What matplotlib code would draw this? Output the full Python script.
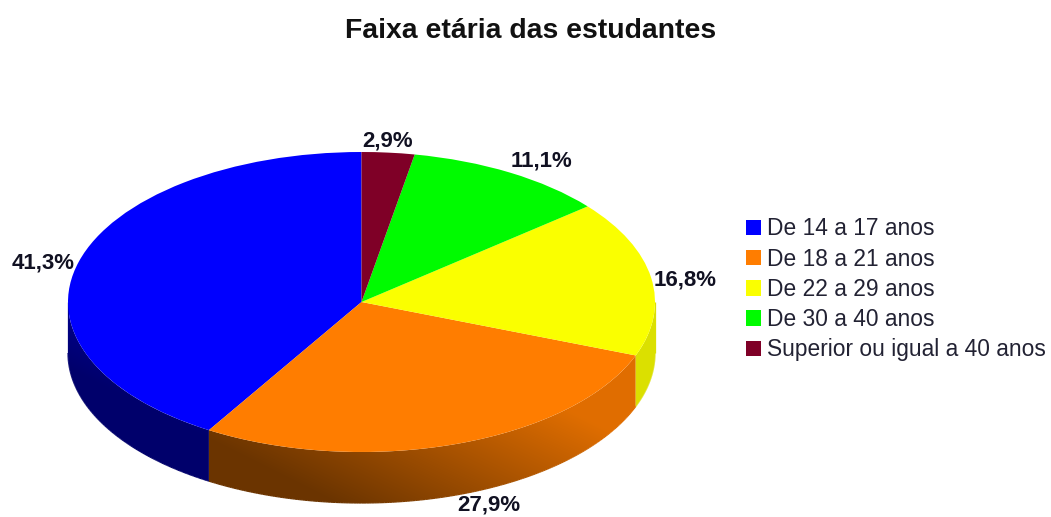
import numpy as np
import matplotlib
matplotlib.use("Agg")
import matplotlib.pyplot as plt
from matplotlib.collections import LineCollection
from matplotlib.patches import Polygon

plt.rcParams['font.family'] = ['Liberation Sans', 'DejaVu Sans']

title = "Faixa etária das estudantes"
categories = ["De 14 a 17 anos", "De 18 a 21 anos", "De 22 a 29 anos",
              "De 30 a 40 anos", "Superior ou igual a 40 anos"]
values = [41.3, 27.9, 16.8, 11.1, 2.9]
colors = ["#0000ff", "#ff7d00", "#faff00", "#00fb00", "#7f0027"]

W, H = 1051, 517
CX, CY, RX, RY, DEPTH = 361.5, 302.0, 293.5, 150.0, 51.0

fig = plt.figure(figsize=(W / 100, H / 100), dpi=100, facecolor="white")
ax = fig.add_axes([0, 0, 1, 1])
wedges, _ = ax.pie(values, colors=colors, startangle=90, counterclock=True,
                   normalize=True, wedgeprops=dict(linewidth=0, zorder=3))
xlim = (-CX / RX, (W - CX) / RX)
ylim = (-(H - CY) / RY, CY / RY)
depth = DEPTH / RY


def shade(px, py):
    return np.clip(0.54 + 0.0011 * (px - 350) - 0.0022 * (py - 455), 0.42, 0.88)


gx, gy = np.meshgrid(np.arange(W) + 0.5, np.arange(H) + 0.5)
gs = shade(gx, gy)[..., None]

segs, segc = [], []
for w, col in zip(wedges, colors):
    base = np.array(matplotlib.colors.to_rgb(col))
    t1, t2 = w.theta1 % 360, w.theta2 % 360
    if t2 <= t1:
        t2 += 360
    lo, hi = max(t1, 180), min(t2, 360)
    if hi <= lo:
        continue
    th = np.radians(np.linspace(lo, hi, 200))
    x, y = np.cos(th), np.sin(th)
    outline = np.r_[np.c_[x, y], np.c_[x, y - depth][::-1]]
    im = ax.imshow(base * gs, extent=(*xlim, *ylim), origin="upper",
                   interpolation="nearest", aspect="auto", zorder=2)
    im.set_clip_path(Polygon(outline, transform=ax.transData))
    # smooth outer rim of the side wall
    bx, by = x, y - depth
    if lo == 180:
        bx = np.r_[x[0], bx]
        by = np.r_[y[0], by]
    if hi == 360:
        bx = np.r_[bx, x[-1]]
        by = np.r_[by, y[-1]]
    for i in range(len(bx) - 1):
        segs.append([(bx[i], by[i]), (bx[i + 1], by[i + 1])])
        mx = CX + RX * (bx[i] + bx[i + 1]) / 2
        my = CY - RY * (by[i] + by[i + 1]) / 2
        segc.append(base * shade(mx, my))
ax.add_collection(LineCollection(segs, colors=segc, linewidths=0.9, zorder=1.9))

ax.set_aspect("auto")
ax.set_xlim(*xlim)
ax.set_ylim(*ylim)
ax.axis("off")

fig.text(530.5 / W, 1 - 31 / H, title, ha="center", va="center",
         fontsize=20.4, fontweight="bold", color="#111111")

label_pos = [(43, 263), (489, 505.5), (685, 280), (542, 161), (388, 141)]
for v, (px, py) in zip(values, label_pos):
    fig.text(px / W, 1 - py / H, f"{v:.1f}%".replace(".", ","), ha="center",
             va="center", fontsize=16, fontweight="bold", color="#111122")

fig.legend(wedges, categories, loc="upper left",
           bbox_to_anchor=(734.6 / W, 1 - 206 / H), frameon=False, fontsize=16.4,
           handlelength=0.66, handleheight=0.66, handletextpad=0.26,
           labelspacing=0.318, borderpad=0.5, borderaxespad=0,
           labelcolor="#222233")

fig.savefig("out.png", dpi=100)
